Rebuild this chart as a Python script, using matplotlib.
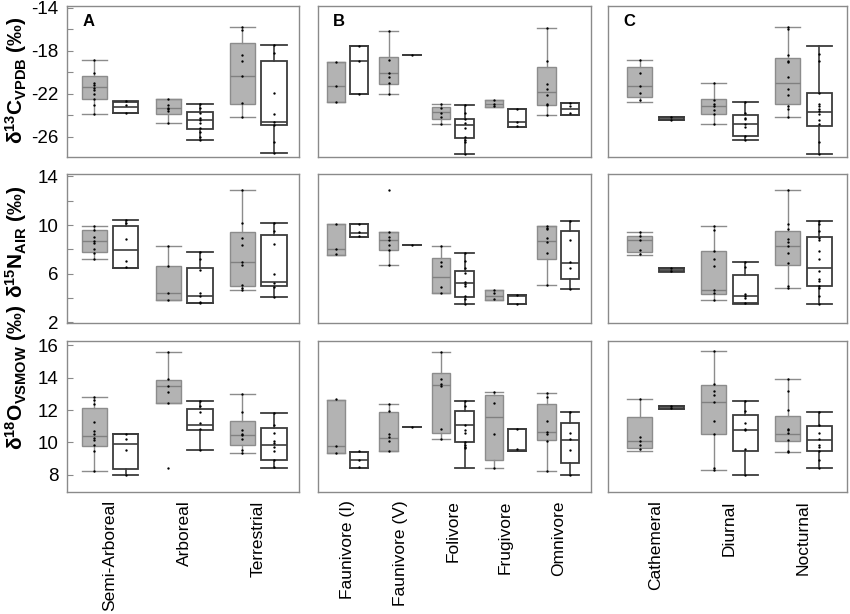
import matplotlib
matplotlib.use("Agg")
import matplotlib.pyplot as plt

plt.rcParams['font.family'] = ['Liberation Sans', 'DejaVu Sans']
plt.rcParams['mathtext.fontset'] = 'custom'
plt.rcParams['mathtext.rm'] = 'Liberation Sans'
plt.rcParams['mathtext.bf'] = 'Liberation Sans:bold'
plt.rcParams['mathtext.it'] = 'Liberation Sans:italic'

# ---------------- categories ----------------
CATS_A = ["Semi-Arboreal", "Arboreal", "Terrestrial"]
CATS_B = ["Faunivore (I)", "Faunivore (V)", "Folivore", "Frugivore", "Omnivore"]
CATS_C = ["Cathemeral", "Diurnal", "Nocturnal"]

# box stats: [whislo, q1, median, q3, whishi]
# ---------------- d13C ----------------
C13_A_GREY = [[-23.9, -22.5, -21.4, -20.35, -18.9],
              [-24.75, -23.9, -23.35, -22.5, -22.5],
              [-24.15, -22.95, -20.4, -17.3, -15.85]]
C13_A_GREY_PTS = [[-18.9, -20.1, -21.0, -21.2, -21.5, -21.7, -22.0, -22.5, -23.1, -23.9],
                  [-22.5, -23.1, -23.3, -23.4, -23.6, -24.75],
                  [-15.85, -16.1, -18.4, -19.0, -20.4, -22.9, -24.15]]
C13_A_WHITE = [[-23.85, -23.85, -23.25, -22.75, -22.7],
               [-26.3, -25.3, -24.45, -23.7, -22.95],
               [-27.55, -24.9, -24.6, -18.95, -17.5]]
C13_A_WHITE_PTS = [[-22.7, -23.1, -23.8],
                   [-22.95, -23.3, -23.8, -24.3, -24.5, -24.7, -25.2, -25.6, -26.0, -26.3],
                   [-17.5, -18.2, -21.9, -23.9, -24.6, -24.9, -26.5, -27.55]]
C13_B_GREY = [[-22.75, -22.75, -21.3, -19.1, -19.1],
              [-22.0, -21.1, -20.1, -18.55, -16.15],
              [-24.85, -24.35, -23.75, -23.25, -22.95],
              [-23.25, -23.25, -22.95, -22.6, -22.6],
              [-24.0, -23.1, -21.85, -19.55, -15.9]]
C13_B_GREY_PTS = [[-19.1, -21.3, -22.75],
                  [-16.15, -18.9, -20.1, -20.5, -21.0, -22.0],
                  [-22.95, -23.35, -23.8, -24.2, -24.85],
                  [-22.6, -22.95, -23.2],
                  [-15.9, -19.0, -21.1, -21.6, -22.1, -23.0, -23.1, -24.0]]
C13_B_WHITE = [[-22.05, -22.05, -18.95, -17.55, -17.55],
               [-18.45, -18.45, -18.45, -18.45, -18.45],
               [-27.6, -26.15, -24.95, -24.35, -23.1],
               [-25.1, -25.1, -24.6, -23.4, -23.4],
               [-24.0, -24.0, -23.45, -22.85, -22.85]]
C13_B_WHITE_PTS = [[-17.55, -18.95, -22.05],
                   [-18.45],
                   [-23.1, -23.8, -24.4, -24.7, -25.2, -26.0, -26.3, -26.5, -27.6],
                   [-23.4, -24.6, -25.05],
                   [-22.85, -23.2, -23.85]]
C13_C_GREY = [[-22.75, -22.35, -21.25, -19.5, -18.9],
              [-24.8, -23.9, -23.15, -22.5, -21.05],
              [-24.2, -23.0, -21.05, -18.65, -15.85]]
C13_C_GREY_PTS = [[-18.9, -20.05, -21.25, -21.9, -22.6],
                  [-21.05, -22.6, -22.95, -23.15, -23.5, -23.9, -24.8],
                  [-15.85, -16.0, -18.4, -19.0, -19.1, -20.5, -21.6, -22.1, -23.2, -23.4, -24.2]]
C13_C_WHITE = [[-24.5, -24.5, -24.35, -24.15, -24.15],
               [-26.35, -25.9, -24.8, -24.0, -22.75],
               [-27.6, -25.0, -23.75, -21.95, -17.55]]
C13_C_WHITE_PTS = [[-24.15, -24.45],
                   [-22.75, -23.8, -24.3, -24.4, -24.8, -25.1, -25.95, -26.3],
                   [-18.3, -19.0, -21.95, -22.95, -23.2, -23.4, -23.6, -23.9, -24.5, -24.8, -26.5, -27.6]]

# ---------------- d15N ----------------
N15_A_GREY = [[7.2, 7.75, 8.7, 9.6, 9.9],
              [3.85, 3.85, 4.4, 6.6, 8.3],
              [4.65, 5.0, 6.95, 9.45, 12.9]]
N15_A_GREY_PTS = [[9.9, 9.6, 9.0, 8.7, 8.5, 8.0, 7.7, 7.2],
                  [8.3, 6.6, 4.4, 3.85],
                  [12.9, 10.2, 8.9, 8.4, 6.95, 6.7, 5.05, 4.85, 4.65]]
N15_A_WHITE = [[6.45, 6.5, 7.95, 9.95, 10.4],
               [3.6, 3.6, 4.15, 6.5, 7.75],
               [4.1, 5.0, 5.35, 9.15, 10.15]]
N15_A_WHITE_PTS = [[10.4, 10.2, 8.85, 7.05, 6.55],
                   [7.75, 7.25, 6.3, 4.4, 4.2, 3.7, 3.6],
                   [10.15, 9.5, 8.45, 6.0, 5.2, 4.9, 4.1]]
N15_B_GREY = [[7.55, 7.55, 8.0, 10.05, 10.05],
              [6.7, 7.95, 8.8, 9.4, 9.4],
              [4.4, 4.4, 5.7, 7.3, 8.3],
              [3.85, 3.85, 4.15, 4.65, 4.65],
              [5.05, 7.2, 8.7, 9.95, 9.95]]
N15_B_GREY_PTS = [[10.05, 8.0, 7.6],
                  [12.9, 9.45, 9.0, 8.8, 8.4, 7.95, 6.7],
                  [8.3, 7.0, 6.6, 4.95, 4.45],
                  [4.65, 4.4, 3.9],
                  [9.95, 9.8, 9.65, 8.95, 8.65, 7.7, 5.05]]
N15_B_WHITE = [[9.05, 9.05, 9.35, 10.05, 10.05],
               [8.35, 8.35, 8.35, 8.35, 8.35],
               [3.5, 4.05, 5.2, 6.25, 7.7],
               [3.5, 3.5, 4.2, 4.25, 4.25],
               [4.75, 5.6, 6.9, 9.5, 10.35]]
N15_B_WHITE_PTS = [[10.05, 9.4, 9.1],
                   [8.35],
                   [7.7, 7.05, 6.5, 6.05, 5.3, 5.15, 5.0, 4.15, 3.95, 3.5],
                   [4.25, 3.55],
                   [10.35, 8.8, 7.0, 6.45, 4.75]]
N15_C_GREY = [[7.55, 7.75, 8.75, 9.1, 9.4],
              [3.85, 4.35, 4.65, 7.9, 9.9],
              [4.85, 6.7, 8.3, 9.55, 12.85]]
N15_C_GREY_PTS = [[9.4, 9.1, 8.8, 7.95, 7.6],
                  [9.9, 9.6, 7.9, 7.2, 6.6, 4.65, 4.4, 3.85],
                  [12.85, 10.1, 9.7, 8.85, 8.6, 8.3, 7.7, 6.85, 5.0, 4.85]]
N15_C_WHITE = [[6.15, 6.2, 6.35, 6.5, 6.5],
               [3.5, 3.6, 4.15, 5.9, 6.95],
               [3.5, 5.0, 6.5, 9.0, 10.35]]
N15_C_WHITE_PTS = [[6.5, 6.2],
                   [6.95, 6.55, 4.35, 4.15, 4.0, 3.6],
                   [10.35, 10.05, 9.5, 8.95, 8.8, 7.85, 7.2, 6.25, 5.6, 5.4, 5.0, 4.8, 4.15, 3.5]]

# ---------------- d18O ----------------
O18_A_GREY = [[8.25, 9.8, 10.4, 12.1, 12.8],
              [12.45, 12.45, 13.45, 13.85, 15.6],
              [9.35, 9.85, 10.45, 11.3, 13.0]]
O18_A_GREY_PTS = [[12.8, 12.6, 12.35, 11.25, 10.7, 10.5, 10.25, 10.15, 9.85, 9.5, 8.25],
                  [15.6, 13.9, 13.5, 13.1, 12.45, 8.45],
                  [13.0, 11.9, 10.75, 10.55, 10.45, 10.2, 9.55, 9.35]]
O18_A_WHITE = [[8.0, 8.35, 9.9, 10.5, 10.55],
               [9.55, 10.75, 11.1, 12.05, 12.55],
               [8.4, 8.9, 9.85, 10.9, 11.8]]
O18_A_WHITE_PTS = [[10.55, 10.2, 9.55, 8.0],
                   [12.55, 12.25, 11.9, 11.2, 10.8, 9.55],
                   [11.8, 11.1, 10.6, 10.1, 9.95, 9.7, 9.45, 8.9, 8.5]]
O18_B_GREY = [[9.35, 9.35, 9.8, 12.6, 12.6],
              [9.45, 9.45, 10.3, 11.9, 12.4],
              [10.2, 10.6, 13.55, 14.3, 15.6],
              [8.45, 8.95, 11.55, 12.95, 13.1],
              [8.25, 10.15, 10.65, 12.4, 13.05]]
O18_B_GREY_PTS = [[12.65, 9.8, 9.35],
                  [12.4, 11.95, 10.5, 10.35, 10.1, 9.5],
                  [15.6, 13.9, 13.6, 13.5, 10.8, 10.2],
                  [13.1, 12.45, 10.5, 8.45],
                  [13.05, 12.8, 11.3, 10.65, 10.55, 10.1, 8.25]]
O18_B_WHITE = [[8.45, 8.45, 8.95, 9.4, 9.4],
               [10.95, 10.95, 10.95, 10.95, 10.95],
               [8.4, 10.0, 11.1, 11.95, 12.55],
               [9.5, 9.5, 9.55, 10.85, 10.85],
               [8.0, 8.75, 10.15, 11.2, 11.85]]
O18_B_WHITE_PTS = [[9.45, 8.95, 8.5],
                   [10.95],
                   [12.55, 12.25, 11.1, 10.75, 10.6, 10.05, 9.85, 9.75, 9.65],
                   [10.85, 9.6],
                   [11.85, 10.6, 10.2, 9.55, 8.0]]
O18_C_GREY = [[9.5, 9.65, 10.1, 11.55, 12.7],
              [8.3, 10.5, 12.5, 13.55, 15.65],
              [9.4, 10.1, 10.55, 11.65, 13.9]]
O18_C_GREY_PTS = [[12.7, 10.35, 10.1, 9.85, 9.6],
                  [15.65, 13.6, 13.2, 12.9, 12.5, 11.3, 10.5, 8.45, 8.3],
                  [13.9, 13.15, 12.0, 10.85, 10.75, 10.6, 10.15, 9.5, 9.4]]
O18_C_WHITE = [[12.05, 12.05, 12.15, 12.25, 12.25],
               [8.0, 9.5, 10.75, 11.7, 12.55],
               [8.4, 9.45, 10.15, 11.0, 11.85]]
O18_C_WHITE_PTS = [[12.25, 12.1],
                   [12.55, 11.95, 11.2, 10.85, 10.75, 9.6, 8.0],
                   [11.85, 11.05, 10.6, 10.2, 9.85, 9.75, 9.5, 8.95, 8.45]]

Y_LABELS = [r'$\mathbf{δ^{13}C_{VPDB}}$ (‰)',
            r'$\mathbf{δ^{15}N_{AIR}}$ (‰)',
            r'$\mathbf{δ^{18}O_{VSMOW}}$ (‰)']
Y_TICKS = [[-26, -24, -22, -20, -18, -16, -14],
           [2, 4, 6, 8, 10, 12, 14],
           [8, 10, 12, 14, 16]]
Y_TICKLABELS = [["-26", "", "-22", "", "-18", "", "-14"],
                ["2", "", "6", "", "10", "", "14"],
                ["8", "10", "12", "14", "16"]]
PANEL_LETTERS = ["A", "B", "C"]

# ---------------- layout ----------------
W, H = 850, 614
fig = plt.figure(figsize=(W / 100, H / 100), dpi=100)

col_px = [(67, 299), (318, 591), (608, 847)]
row_px = [(6, 157), (174, 323), (341, 492)]
xlims = [(0.42, 3.55), (0.44, 5.62), (0.355, 3.59)]
ylims = [(-27.9, -13.85), (1.95, 14.2), (6.95, 16.25)]
offsets = [0.213, 0.221, 0.213]
widths = [0.34, 0.35, 0.34]
ylabel_y = [80, 242, 377]

data = [
    [(C13_A_GREY, C13_A_GREY_PTS, C13_A_WHITE, C13_A_WHITE_PTS),
     (C13_B_GREY, C13_B_GREY_PTS, C13_B_WHITE, C13_B_WHITE_PTS),
     (C13_C_GREY, C13_C_GREY_PTS, C13_C_WHITE, C13_C_WHITE_PTS)],
    [(N15_A_GREY, N15_A_GREY_PTS, N15_A_WHITE, N15_A_WHITE_PTS),
     (N15_B_GREY, N15_B_GREY_PTS, N15_B_WHITE, N15_B_WHITE_PTS),
     (N15_C_GREY, N15_C_GREY_PTS, N15_C_WHITE, N15_C_WHITE_PTS)],
    [(O18_A_GREY, O18_A_GREY_PTS, O18_A_WHITE, O18_A_WHITE_PTS),
     (O18_B_GREY, O18_B_GREY_PTS, O18_B_WHITE, O18_B_WHITE_PTS),
     (O18_C_GREY, O18_C_GREY_PTS, O18_C_WHITE, O18_C_WHITE_PTS)],
]
cats = [CATS_A, CATS_B, CATS_C]

GREY_FACE = '#b3b3b3'
GREY_EDGE = '#8c8c8c'
DARK_EDGE = '#3c3c3c'
SPINE = '#8a8a8a'


def to_stats(arr):
    out = []
    for s in arr:
        out.append(dict(whislo=s[0], q1=s[1], med=s[2], q3=s[3], whishi=s[4], fliers=[]))
    return out


for r in range(3):
    for c in range(3):
        x0, x1 = col_px[c]
        y0, y1 = row_px[r]
        ax = fig.add_axes([x0 / W, 1 - y1 / H, (x1 - x0) / W, (y1 - y0) / H])
        grey, grey_pts, white, white_pts = data[r][c]
        n = len(cats[c])
        pos_g = [i + 1 - offsets[c] for i in range(n)]
        pos_w = [i + 1 + offsets[c] for i in range(n)]
        wd = widths[c]

        ax.bxp(to_stats(grey), positions=pos_g, widths=wd, capwidths=wd,
               patch_artist=True, showfliers=False, manage_ticks=False,
               boxprops=dict(facecolor=GREY_FACE, edgecolor=GREY_EDGE, linewidth=1.0),
               whiskerprops=dict(color=GREY_EDGE, linewidth=1.0),
               capprops=dict(color=GREY_EDGE, linewidth=1.0),
               medianprops=dict(color='#808080', linewidth=1.0))
        ax.bxp(to_stats(white), positions=pos_w, widths=wd, capwidths=wd,
               patch_artist=True, showfliers=False, manage_ticks=False,
               boxprops=dict(facecolor='white', edgecolor=DARK_EDGE, linewidth=1.3),
               whiskerprops=dict(color=DARK_EDGE, linewidth=1.2),
               capprops=dict(color=DARK_EDGE, linewidth=1.3),
               medianprops=dict(color=DARK_EDGE, linewidth=1.2))
        for p, pts in zip(pos_g, grey_pts):
            ax.plot([p] * len(pts), pts, 'o', ms=1.7, color='black', mew=0, zorder=5)
        for p, pts in zip(pos_w, white_pts):
            ax.plot([p] * len(pts), pts, 'o', ms=1.7, color='black', mew=0, zorder=5)

        ax.set_xlim(*xlims[c])
        ax.set_ylim(*ylims[r])
        for sp in ax.spines.values():
            sp.set_color(SPINE)
            sp.set_linewidth(1.0)

        ax.set_xticks([i + 1 for i in range(n)])
        if r == 2:
            ax.set_xticklabels(cats[c], rotation=90, fontsize=12.5, va='top', ha='center')
            ax.tick_params(axis='x', length=0, pad=6)
        else:
            ax.set_xticklabels([])
            ax.tick_params(axis='x', length=0)

        if c == 0:
            ax.set_yticks(Y_TICKS[r])
            ax.set_yticklabels(Y_TICKLABELS[r], fontsize=13.5)
            ax.tick_params(axis='y', direction='in', length=4, color=SPINE, pad=6)
            fig.text(16 / W, 1 - ylabel_y[r] / H, Y_LABELS[r], rotation=90,
                     fontsize=15, fontweight='bold', ha='center', va='center')
        else:
            ax.set_yticks([])

        if r == 0:
            ax.annotate(PANEL_LETTERS[c], xy=(0, 1), xycoords='axes fraction',
                        xytext=(11, -6), textcoords='offset points',
                        fontsize=12, fontweight='bold', ha='left', va='top')

fig.savefig('out.png', dpi=100)
